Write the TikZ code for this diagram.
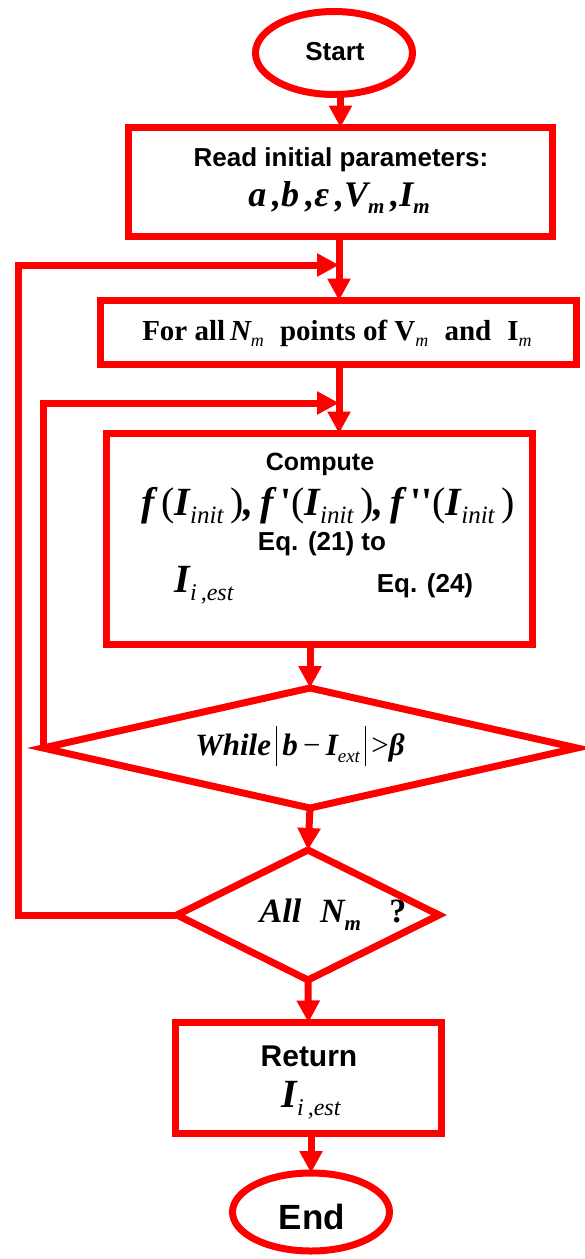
\documentclass[tikz,border=0pt]{standalone}
\usepackage{fontspec}
\usepackage{graphicx}
\setmainfont{Liberation Sans}
\newfontfamily\tms{Liberation Serif}
\usetikzlibrary{shapes.geometric,arrows.meta}
\newcommand\fs[1]{\fontsize{#1}{#1}\selectfont}
\newcommand\mi[1]{{\tms\bfseries\itshape #1}}
\newcommand\mr[1]{{\tms\bfseries #1}}
\newcommand\mn[1]{{\tms #1}}
\newcommand\sbb[3]{\raisebox{-#1}{\fs{#2}\mi{#3}}}
\newcommand\sbi[3]{\raisebox{-#1}{\fs{#2}{\tms\itshape #3}}}
\tikzset{
  shp/.style={draw=red, line width=7pt, inner sep=0pt, outer sep=0pt},
  boxshape/.style={shp, rectangle},
  termshape/.style={shp, ellipse},
  decshape/.style={shp, diamond},
  txt/.style={anchor=base, inner sep=0pt, text=black},
  arr/.style={draw=red, line width=7pt, -{Triangle[length=22pt,width=22pt]}},
}
\begin{document}
\begin{tikzpicture}[x=1pt,y=-1pt]
\useasboundingbox (0,0) rectangle (585,1259);
% shapes
\node[termshape, minimum width=157pt, minimum height=83pt] (start) at (334,53) {};
\node[boxshape, minimum width=424pt, minimum height=109pt] (read) at (340.5,182) {};
\node[boxshape, minimum width=476pt, minimum height=64pt] (for) at (338.5,332.5) {};
\node[boxshape, minimum width=426pt, minimum height=211pt] (comp) at (319.5,539) {};
\node[decshape, minimum width=534pt, minimum height=120pt] (while) at (310,748) {};
\node[decshape, minimum width=262pt, minimum height=130pt] (alln) at (308,915) {};
\node[boxshape, minimum width=266pt, minimum height=111pt] (ret) at (308.5,1078) {};
\node[termshape, minimum width=157pt, minimum height=78pt] (end) at (311,1212) {};
% texts
\node[txt] (tstart) at (335,60) {\fs{26}\bfseries Start};
\node[txt] (tread1) at (341,166) {\fs{26}\bfseries Read initial parameters:};
\node[txt] (tread2) at (339,206) {\fs{36}\mi{a}\,\mi{,}\mi{b}\,\mi{,}\mi{\char"03B5}\,\mi{,}\mi{V}\sbb{7pt}{21}{m}\,\mi{,}\mi{I}\sbb{7pt}{21}{m}};
\node[txt] (tfor) at (337,340) {\fs{29}\mr{For all}\,\mi{N}\sbi{6pt}{18}{m}\ \ \mr{points of V}\sbi{6pt}{18}{m}\ \ \mr{and}\ \ \mr{I}\sbi{6pt}{18}{m}};
\node[txt] (tc1) at (320,470) {\fs{25}\bfseries Compute};
\node[txt] (tc2) at (328,515) {\fs{40}\mi{f}\,\mn{(}\mi{I}\sbi{8pt}{25}{init}\,\mn{)}\mi{,}\,\mi{f}\,\mr{'}\mn{(}\mi{I}\sbi{8pt}{25}{init}\,\mn{)}\mi{,}\,\mi{f}\,\mr{''}\mn{(}\mi{I}\sbi{8pt}{25}{init}\,\mn{)}};
\node[txt] (tc3) at (322,550) {\fs{26}\bfseries Eq. (21) to};
\node[txt] (tc4) at (204,592) {\fs{40}\mi{I}\sbi{8pt}{24}{i\,,est}};
\node[txt] (tc5) at (425,592) {\fs{26}\bfseries Eq. (24)};
\node[txt] (twhile) at (300,755) {\fs{31}\mi{While}\,\rule[-11pt]{1pt}{40pt}\,\mi{b}\,\mn{\char"2212}\,\mi{I}\sbi{7pt}{19}{ext}\,\rule[-11pt]{1pt}{40pt}\,\mn{>}\mi{\char"03B2}};
\node[txt] (tall) at (333,922) {\fs{34}\mi{All}\ \ \mi{N}\sbb{8pt}{21}{m}\ \ \ \mr{?}};
\node[txt] (tret1) at (309,1066) {\fs{30}\bfseries Return};
\node[txt] (tret2) at (311,1107) {\fs{40}\mi{I}\sbi{8pt}{24}{i\,,est}};
\node[txt] (tend) at (312,1229) {\fs{35}\bfseries End};
% junctions
\coordinate (o1) at (18,265);
\coordinate (j1) at (339,265);
\coordinate (j2) at (339,403);
% connectors
\draw[arr] (start.south -| read.north) -- (read.north);
\draw[arr] (read.south -| j1) -- (for.north -| j1);
\draw[arr] (for.south -| j2) -- (comp.north -| j2);
\draw[arr] (comp.south -| while.north) -- (while.north);
\draw[arr] (while.south) -- (alln.north);
\draw[arr] (alln.south) -- (ret.north);
\draw[arr] (ret.south -| end.north) -- (end.north);
\draw[arr] (alln.west) -| (o1) -- (j1);
\draw[arr] (while.west) |- (j2);
\end{tikzpicture}
\end{document}
